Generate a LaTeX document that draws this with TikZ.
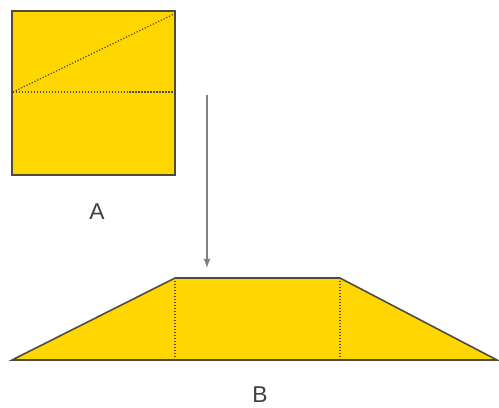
\documentclass[tikz,border=0pt]{standalone}
\usepackage{fontspec}
\setmainfont{Liberation Sans}
\definecolor{paper}{RGB}{255,214,0}
\definecolor{rim}{RGB}{80,75,60}
\begin{document}
\begin{tikzpicture}[x=0.02cm, y=-0.02cm,
    sheet/.style={fill=paper, draw=rim, line width=0.9pt, line join=miter},
    fold/.style={draw=rim, densely dotted, line width=0.7pt},
    every node/.style={font=\fontsize{13}{15}\selectfont, text=black!75}]
    \useasboundingbox (0,0) rectangle (499,407);

    % Quadratisches Blatt A
    \draw[sheet] (12,11) rectangle (175,175);
    \draw[fold] (13,92) -- (174,14);
    \draw[fold] (13,92) -- (174,92);
    \node (A) at (97,212) {A};

    % Trapez B
    \coordinate (bl) at (12,360);
    \coordinate (tl) at (175,278);
    \coordinate (tr) at (340,278);
    \coordinate (br) at (497,360);
    \draw[sheet] (bl) -- (tl) -- (tr) -- (br) -- cycle;
    \draw[fold] (tl) -- (175,359);
    \draw[fold] (tr) -- (340,359);
    \node (B) at (260,395) {B};

    % Pfeil
    \coordinate (von) at (207,95);
    \coordinate (nach) at (207,268);
    \draw[-latex, gray, line width=0.8pt] (von) -- (nach);
\end{tikzpicture}
\end{document}
